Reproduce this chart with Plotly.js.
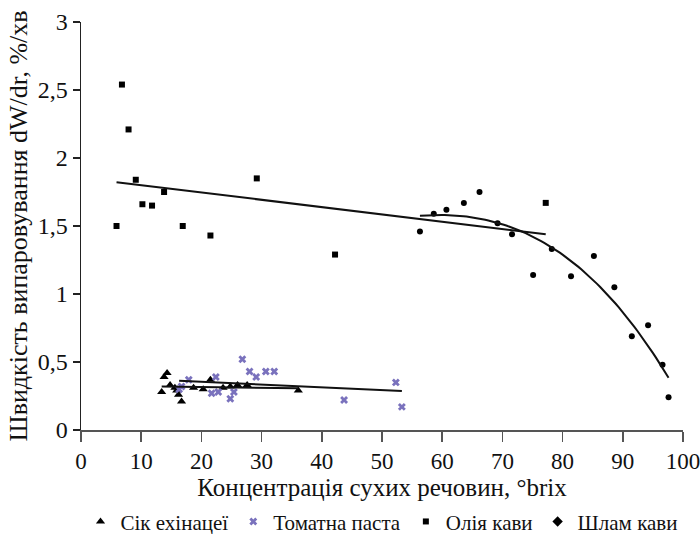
<!DOCTYPE html>
<html>
<head>
<meta charset="utf-8">
<script src="https://cdn.plot.ly/plotly-3.0.1.min.js"></script>
<style>
html,body{margin:0;padding:0;background:#fff;}
#chart{width:700px;height:534px;}
#chart svg text{font-family:"Liberation Serif","Times New Roman",serif !important;}
</style>
</head>
<body>
<div id="chart"></div>
<script>
// Сік ехінацеї (triangles)
const echX = [13.4, 13.8, 14.3, 14.8, 15.6, 15.9, 16.2, 16.7, 18.7, 20.3, 21.5, 23.6, 24.8, 26.0, 27.6, 36.1];
const echY = [0.28, 0.39, 0.42, 0.33, 0.31, 0.29, 0.26, 0.21, 0.31, 0.30, 0.37, 0.31, 0.32, 0.33, 0.33, 0.29];
// Томатна паста (x marks)
const tomX = [16.3, 16.7, 17.9, 21.7, 22.4, 22.8, 24.8, 25.4, 26.8, 28.0, 29.1, 30.7, 32.1, 43.7, 52.3, 53.3];
const tomY = [0.30, 0.32, 0.37, 0.27, 0.39, 0.28, 0.23, 0.28, 0.52, 0.43, 0.39, 0.43, 0.43, 0.22, 0.35, 0.17];
// Олія кави (squares)
const oilX = [5.9, 6.8, 7.9, 9.1, 10.2, 11.8, 13.8, 16.9, 21.5, 29.2, 42.2, 77.2];
const oilY = [1.50, 2.54, 2.21, 1.84, 1.66, 1.65, 1.75, 1.50, 1.43, 1.85, 1.29, 1.67];
// Шлам кави (dots)
const slX = [56.3, 58.6, 60.7, 63.6, 66.2, 69.2, 71.6, 75.1, 78.2, 81.4, 85.2, 88.6, 91.5, 94.2, 96.6, 97.6];
const slY = [1.46, 1.59, 1.62, 1.67, 1.75, 1.52, 1.44, 1.14, 1.33, 1.13, 1.28, 1.05, 0.69, 0.77, 0.48, 0.24];

const legendNames = ['Сік ехінацеї', 'Томатна паста', 'Олія кави', 'Шлам кави'];
const xTicks = [0, 10, 20, 30, 40, 50, 60, 70, 80, 90, 100];
const yTickVals = [0, 0.5, 1, 1.5, 2, 2.5, 3];
const yTickText = ['0', '0,5', '1', '1,5', '2', '2,5', '3'];

function polyfit(x, y, deg) {
  const n = deg + 1;
  const A = [];
  for (let i = 0; i < n; i++) {
    A.push(new Array(n + 1).fill(0));
    for (let j = 0; j < n; j++) {
      let s = 0;
      for (let k = 0; k < x.length; k++) s += Math.pow(x[k], i + j);
      A[i][j] = s;
    }
    let s = 0;
    for (let k = 0; k < x.length; k++) s += y[k] * Math.pow(x[k], i);
    A[i][n] = s;
  }
  for (let c = 0; c < n; c++) {
    let p = c;
    for (let r = c + 1; r < n; r++) if (Math.abs(A[r][c]) > Math.abs(A[p][c])) p = r;
    [A[c], A[p]] = [A[p], A[c]];
    for (let r = 0; r < n; r++) {
      if (r === c) continue;
      const f = A[r][c] / A[c][c];
      for (let k = c; k <= n; k++) A[r][k] -= f * A[c][k];
    }
  }
  return A.map((row, i) => row[n] / row[i]);
}
function trend(x, y, deg) {
  const co = polyfit(x, y, deg);
  const lo = Math.min(...x), hi = Math.max(...x);
  const tx = [], ty = [];
  const steps = 80;
  for (let i = 0; i <= steps; i++) {
    const v = lo + (hi - lo) * i / steps;
    tx.push(v);
    ty.push(co.reduce((s, c, p) => s + c * Math.pow(v, p), 0));
  }
  return {x: tx, y: ty};
}

const tEch = trend(echX, echY, 1);
const tTom = trend(tomX, tomY, 1);
const tOil = trend(oilX, oilY, 1);
const tSl = trend(slX, slY, 3);

const purple = '#7a72bd';
const lineStyle = {color: '#111', width: 2};
const FAM = 'Liberation Serif, Times New Roman, serif';

const traces = [
  {x: echX, y: echY, mode: 'markers', type: 'scatter', name: legendNames[0],
   marker: {symbol: 'triangle-up', size: 8, color: '#000'}},
  {x: tomX, y: tomY, mode: 'markers', type: 'scatter', name: legendNames[1],
   marker: {symbol: 'x', size: 7, color: purple}},
  {x: oilX, y: oilY, mode: 'markers', type: 'scatter', name: legendNames[2],
   marker: {symbol: 'square', size: 6, color: '#000'}},
  {x: slX, y: slY, mode: 'markers', type: 'scatter', name: legendNames[3], showlegend: false,
   marker: {symbol: 'circle', size: 6, color: '#000'}},
  {x: [null], y: [null], mode: 'markers', type: 'scatter', name: legendNames[3],
   marker: {symbol: 'diamond', size: 8, color: '#000'}},
  {x: tEch.x, y: tEch.y, mode: 'lines', type: 'scatter', showlegend: false, line: lineStyle, hoverinfo: 'skip'},
  {x: tTom.x, y: tTom.y, mode: 'lines', type: 'scatter', showlegend: false, line: lineStyle, hoverinfo: 'skip'},
  {x: tOil.x, y: tOil.y, mode: 'lines', type: 'scatter', showlegend: false, line: lineStyle, hoverinfo: 'skip'},
  {x: tSl.x, y: tSl.y, mode: 'lines', type: 'scatter', showlegend: false, line: lineStyle, hoverinfo: 'skip'}
];

const layout = {
  width: 700, height: 534,
  margin: {l: 81, r: 17, t: 22, b: 104, autoexpand: false},
  paper_bgcolor: '#fff', plot_bgcolor: '#fff',
  font: {family: FAM, size: 22, color: '#111'},
  showlegend: true,
  legend: {orientation: 'h', x: 0.5, xanchor: 'center', y: -0.225, yanchor: 'middle',
           font: {family: FAM, size: 21, color: '#111'}, itemwidth: 30, tracegroupgap: 0,
           traceorder: 'normal'},
  xaxis: {
    range: [0, 100], tickvals: xTicks, ticktext: xTicks.map(String),
    showline: true, linecolor: '#555', linewidth: 1.5,
    ticks: 'outside', ticklen: 10, tickcolor: '#555', tickwidth: 1.5,
    showgrid: false, zeroline: false, automargin: false, ticklabeloverflow: 'allow',
    tickfont: {family: FAM, size: 23, color: '#111'},
    title: {text: 'Концентрація сухих речовин, °brix', font: {family: FAM, size: 25, color: '#111'}, standoff: 0}
  },
  yaxis: {
    range: [0, 3], tickvals: yTickVals, ticktext: yTickText,
    showline: true, linecolor: '#222', linewidth: 1.5,
    ticks: 'outside', ticklen: 7, tickcolor: '#222', tickwidth: 1.5,
    showgrid: false, zeroline: false, automargin: false, ticklabeloverflow: 'allow',
    tickfont: {family: FAM, size: 24, color: '#111'},
    title: {text: 'Швидкість випаровування dW/dr, %/хв', font: {family: FAM, size: 26, color: '#111'}, standoff: 2}
  }
};

Plotly.newPlot('chart', traces, layout, {displayModeBar: false, staticPlot: true});
</script>
</body>
</html>
